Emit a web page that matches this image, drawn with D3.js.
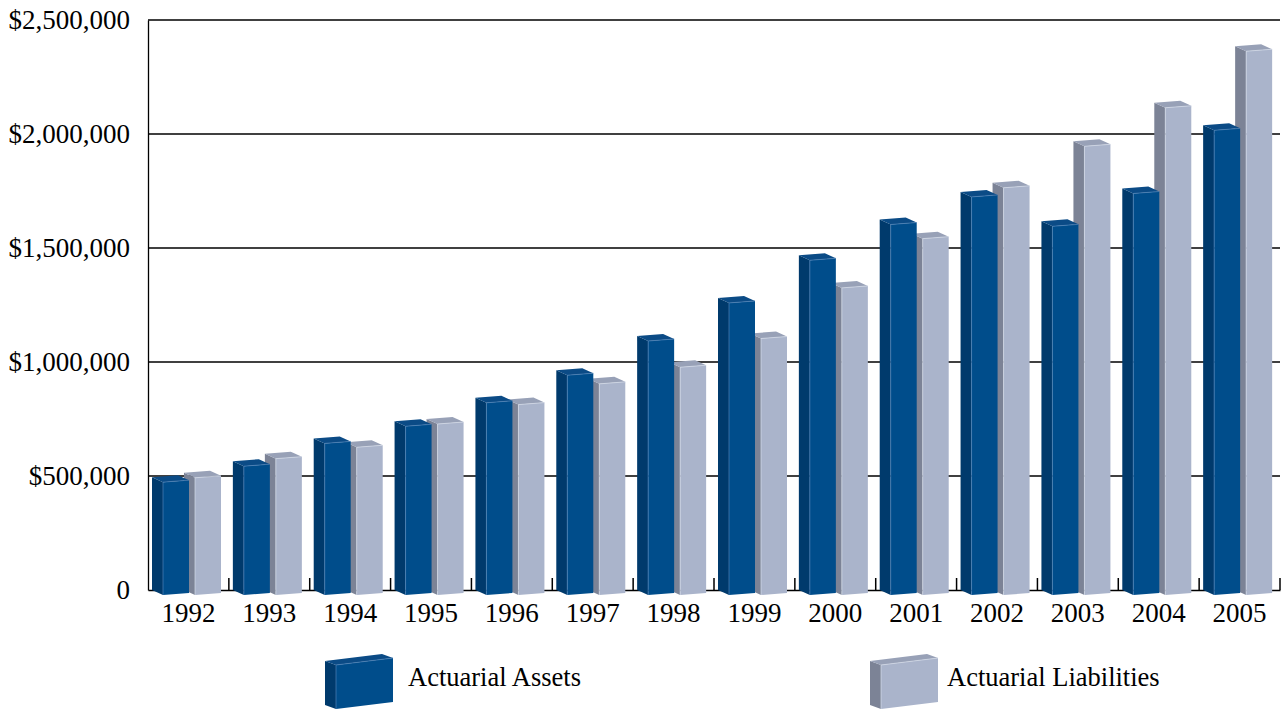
<!DOCTYPE html>
<html>
<head>
<meta charset="utf-8">
<script src="https://cdn.jsdelivr.net/npm/d3@7"></script>
<style>
  html, body { margin: 0; padding: 0; background: #ffffff; }
  svg { display: block; }
  text { font-family: "Liberation Serif", "Times New Roman", serif; fill: #000; }
</style>
</head>
<body>
<svg id="chart" width="1283" height="711"></svg>
<script>
// Fiscal years on the horizontal axis
const years = ["1992", "1993", "1994", "1995", "1996", "1997", "1998",
               "1999", "2000", "2001", "2002", "2003", "2004", "2005"];

// Actuarial value of assets, dollars
const assets = [495000, 565000, 665000, 740000, 843000, 964000, 1114000,
                1281000, 1468000, 1625000, 1746000, 1617000, 1761000, 2038000];

// Actuarial liabilities, dollars
const liabilities = [514000, 598000, 648000, 750000, 835000, 926000, 999000,
                     1125000, 1347000, 1563000, 1786000, 1968000, 2137000, 2385000];

// Value axis ticks
const yTicks = [0, 500000, 1000000, 1500000, 2000000, 2500000];

const seriesNames = ["Actuarial Assets", "Actuarial Liabilities"];

// Face colours for each series: front, side, top, edge highlight
const palette = [
  { front: "#004d8b", side: "#003a6c", top: "#0b4b86", edge: "#4f82b8" },
  { front: "#aab4cb", side: "#7c8396", top: "#98a1b7", edge: "#d6dcea" }
];

const svg = d3.select("#chart");
const plotLeft = 148, plotRight = 1280, plotTop = 20, plotBottom = 590;

const x = d3.scaleBand().domain(years).range([plotLeft, plotRight]).padding(0);
const y = d3.scaleLinear().domain([0, 2500000]).range([plotBottom, plotTop]);

// Gridlines
svg.append("g")
  .selectAll("line")
  .data(yTicks.slice(1))
  .join("line")
  .attr("x1", plotLeft).attr("x2", plotRight)
  .attr("y1", d => y(d)).attr("y2", d => y(d))
  .attr("stroke", "#000").attr("stroke-width", 1.3);

// Value axis with dollar labels
const fmt = d => d === 0 ? "0" : "$" + d3.format(",")(d);
const yAxis = d3.axisLeft(y).tickValues(yTicks).tickFormat(fmt).tickSize(0).tickPadding(18);
const gy = svg.append("g").attr("transform", `translate(${plotLeft},0)`).call(yAxis);
gy.select(".domain").attr("stroke", "#000").attr("stroke-width", 1.3);
gy.selectAll("text")
  .attr("font-size", 27)
  .attr("font-family", "Liberation Serif, serif")
  .attr("fill", "#000");

// Category axis: baseline with inward ticks between years
const xAxis = d3.axisBottom(x).tickSize(0).tickPadding(13);
const gx = svg.append("g").attr("transform", `translate(0,${plotBottom})`).call(xAxis);
gx.select(".domain").attr("stroke", "#000").attr("stroke-width", 1.5);
gx.selectAll("text")
  .attr("font-size", 27)
  .attr("font-family", "Liberation Serif, serif")
  .attr("fill", "#000");

const boundaries = years.map(d => x(d)).concat([plotRight]).slice(1);
svg.append("g")
  .selectAll("line")
  .data(boundaries)
  .join("line")
  .attr("x1", d => d).attr("x2", d => d)
  .attr("y1", plotBottom).attr("y2", plotBottom - 12)
  .attr("stroke", "#000").attr("stroke-width", 1.5);

// Draw a prism column: back-left corner at x0, top at yt, base at yb
function prism(g, x0, yt, yb, c, w, dx, dy, s) {
  const BLt = [x0, yt], FLt = [x0 + dx, yt + dy], FRt = [x0 + dx + w, yt + dy - s], BRt = [x0 + w, yt - s];
  const BLb = [x0, yb], FLb = [x0 + dx, yb + dy], FRb = [x0 + dx + w, yb + dy - s];
  const poly = pts => "M" + pts.map(p => p.join(",")).join("L") + "Z";
  g.append("path").attr("d", poly([BLt, FLt, FLb, BLb])).attr("fill", c.side);
  g.append("path").attr("d", poly([FLt, FRt, FRb, FLb])).attr("fill", c.front);
  g.append("path").attr("d", poly([BLt, FLt, FRt, BRt])).attr("fill", c.top);
  g.append("path").attr("d", "M" + [FLb, FLt, FRt].map(p => p.join(",")).join("L"))
    .attr("fill", "none").attr("stroke", c.edge).attr("stroke-width", 0.7);
}

// Columns: liabilities behind, assets in front
const bars = svg.append("g");
const offsets = [4, 36];
years.forEach((yr, i) => {
  [1, 0].forEach(s => {
    const v = s === 0 ? assets[i] : liabilities[i];
    prism(bars, x(yr) + offsets[s], y(v), y(0), palette[s], 26, 11, 5, 2);
  });
});

// Legend
const legend = svg.append("g");
const legendX = [325, 870];
const legendTextX = [408, 947];
seriesNames.forEach((name, s) => {
  prism(legend, legendX[s], 661, 705, palette[s], 57, 11, 4, 7);
  legend.append("text")
    .attr("x", legendTextX[s]).attr("y", 686)
    .attr("font-size", 26.5)
    .text(name);
});
</script>
</body>
</html>
